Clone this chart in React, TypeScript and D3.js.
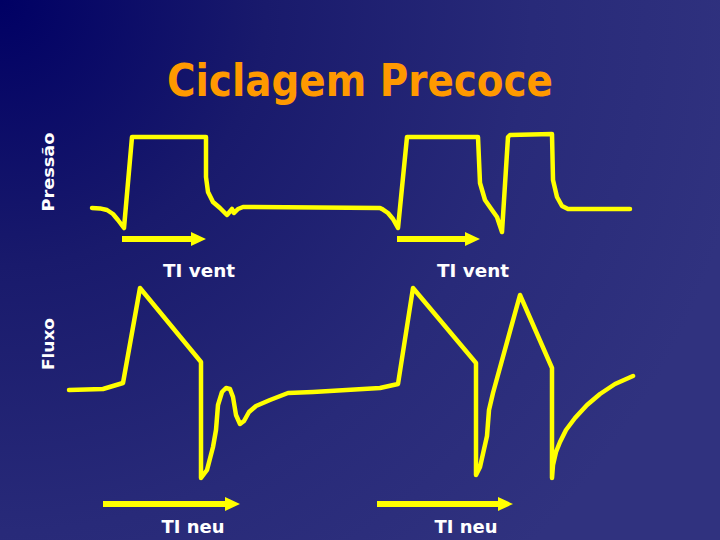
import React from "react";
import * as d3 from "d3";

const W = 720;
const H = 540;

// pressure trace: time (s) and pressure (cmH2O)
const pressureTime = [
  0.32, 0.4, 0.47, 0.53, 0.58, 0.64, 0.72, 1.46, 1.46, 1.48, 1.53, 1.6, 1.67,
  1.72, 1.74, 1.78, 1.83, 3.2, 3.23, 3.28, 3.33, 3.38, 3.47, 4.18, 4.2, 4.25,
  4.32, 4.37, 4.42, 4.48, 4.5, 4.92, 4.93, 4.97, 5.02, 5.08, 5.7,
];
const pressureValue = [
  5, 4.9, 4.5, 3.5, 2, 0, 22.75, 22.75, 12.75, 9, 6.5, 5, 3.25, 4.75, 3.75,
  4.75, 5.25, 5, 4.6, 3.75, 2.25, 0, 22.75, 22.75, 11.25, 7, 4.5, 2.75, -1,
  22.75, 23.25, 23.5, 12, 7.75, 5.5, 4.75, 4.75,
];

// flow trace: time (s) and flow (L/min)
const flowTime = [
  0.09, 0.43, 0.63, 0.8, 1.41, 1.41, 1.47, 1.53, 1.56, 1.58, 1.62, 1.66, 1.7,
  1.73, 1.76, 1.8, 1.84, 1.89, 1.96, 2.1, 2.28, 2.53, 3.2, 3.38, 3.53, 4.16,
  4.16, 4.2, 4.27, 4.29, 4.33, 4.6, 4.92, 4.92, 4.93, 4.96, 5.0, 5.06, 5.15,
  5.27, 5.4, 5.55, 5.73,
];
const flowValue = [
  -0.5, 0, 3, 50.5, 13.5, -44.5, -40.5, -29, -20.5, -8, -1.5, 0.5, 0, -4, -13,
  -17.5, -16, -11.5, -8.5, -5.5, -2, -1.5, 0.5, 2.5, 50.5, 13, -43, -39, -23.5,
  -10.5, -2, 47, 10.5, -44.5, -38, -31.5, -26.5, -20.5, -14.5, -8, -2.5, 2.5,
  6.5,
];

// inspiratory time arrows
const ventStart = [0.62, 3.37];
const ventEnd = [1.46, 4.2];
const ventLabelAt = [1.39, 4.13];
const ventLabels = ["TI vent", "TI vent"];
const neuStart = [0.43, 3.17];
const neuEnd = [1.8, 4.53];
const neuLabelAt = [1.33, 4.06];
const neuLabels = ["TI neu", "TI neu"];

const title = "Ciclagem Precoce";
const yLabels = ["Pressão", "Fluxo"];

const FONT = "'DejaVu Sans', Verdana, sans-serif";
const YELLOW = "#ffff00";

const x = d3.scaleLinear().domain([0, 5.8]).range([60, 640]);
const yP = d3.scaleLinear().domain([0, 25]).range([228, 128]);
const yF = d3.scaleLinear().domain([-60, 60]).range([509, 269]);

const pressureLine = d3
  .line<number>()
  .x((d, i) => x(pressureTime[i]))
  .y((d) => yP(d));
const flowLine = d3
  .line<number>()
  .x((d, i) => x(flowTime[i]))
  .y((d) => yF(d));

function Arrow({ x0, x1, y }: { x0: number; x1: number; y: number }) {
  const head = 15;
  return (
    <g>
      <line x1={x0} x2={x1 - head + 2} y1={y} y2={y} stroke={YELLOW} strokeWidth={6} />
      <polygon points={`${x1},${y} ${x1 - head},${y - 7} ${x1 - head},${y + 7}`} fill={YELLOW} />
    </g>
  );
}

export default function App() {
  const ventY = 239;
  const neuY = 504;
  return (
    <svg
      width={W}
      height={H}
      style={{ position: "absolute", left: 0, top: 0, display: "block" }}
    >
      <defs>
        <radialGradient id="bg" cx={0} cy={0} r={760} gradientUnits="userSpaceOnUse">
          <stop offset="0" stopColor="#000064" />
          <stop offset="0.35" stopColor="#191a6c" />
          <stop offset="0.7" stopColor="#282a79" />
          <stop offset="1" stopColor="#30327f" />
        </radialGradient>
      </defs>
      <rect width={W} height={H} fill="url(#bg)" />

      <text
        x={360}
        y={96}
        textAnchor="middle"
        fontFamily={FONT}
        fontWeight="bold"
        fontSize={45}
        fill="#ff9900"
        textLength={386}
        lengthAdjust="spacingAndGlyphs"
      >
        {title}
      </text>

      <text
        transform="translate(54,172) rotate(-90)"
        textAnchor="middle"
        fontFamily={FONT}
        fontWeight="bold"
        fontSize={15}
        fill="#ffffff"
        textLength={79}
        lengthAdjust="spacingAndGlyphs"
      >
        {yLabels[0]}
      </text>
      <text
        transform="translate(54,344) rotate(-90)"
        textAnchor="middle"
        fontFamily={FONT}
        fontWeight="bold"
        fontSize={15}
        fill="#ffffff"
        textLength={52}
        lengthAdjust="spacingAndGlyphs"
      >
        {yLabels[1]}
      </text>

      <path
        d={pressureLine(pressureValue) ?? ""}
        fill="none"
        stroke={YELLOW}
        strokeWidth={4.5}
        strokeLinejoin="round"
        strokeLinecap="round"
      />
      <path
        d={flowLine(flowValue) ?? ""}
        fill="none"
        stroke={YELLOW}
        strokeWidth={4.5}
        strokeLinejoin="round"
        strokeLinecap="round"
      />

      {ventStart.map((s, i) => (
        <Arrow key={"va" + i} x0={x(s)} x1={x(ventEnd[i])} y={ventY} />
      ))}
      {ventLabels.map((t, i) => (
        <text
          key={"vl" + i}
          x={x(ventLabelAt[i])}
          y={277}
          textAnchor="middle"
          fontFamily={FONT}
          fontWeight="bold"
          fontSize={18}
          fill="#ffffff"
          textLength={72}
          lengthAdjust="spacingAndGlyphs"
        >
          {t}
        </text>
      ))}
      {neuStart.map((s, i) => (
        <Arrow key={"na" + i} x0={x(s)} x1={x(neuEnd[i])} y={neuY} />
      ))}
      {neuLabels.map((t, i) => (
        <text
          key={"nl" + i}
          x={x(neuLabelAt[i])}
          y={533}
          textAnchor="middle"
          fontFamily={FONT}
          fontWeight="bold"
          fontSize={18}
          fill="#ffffff"
          textLength={63}
          lengthAdjust="spacingAndGlyphs"
        >
          {t}
        </text>
      ))}
    </svg>
  );
}
